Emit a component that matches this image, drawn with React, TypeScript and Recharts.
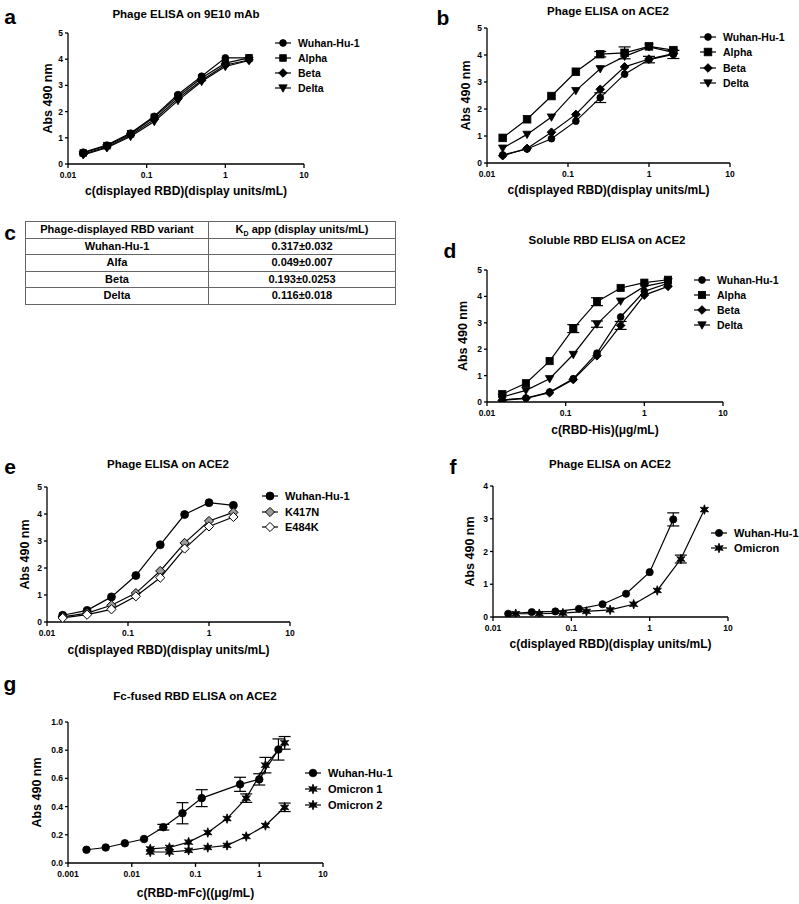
import React from 'react';
import { ScatterChart, Scatter, XAxis, YAxis, ErrorBar, Label } from 'recharts';

const FONT = '"Liberation Sans", Arial, Helvetica, sans-serif';

// ---------- data ----------
const conc = [0.015625, 0.03125, 0.0625, 0.125, 0.25, 0.5, 1, 2];
const concOmi = [0.0195, 0.039, 0.078, 0.156, 0.3125, 0.625, 1.25, 2.5, 5];
const concGW = [0.00195, 0.0039, 0.0078, 0.0156, 0.03125, 0.0625, 0.125, 0.5, 1, 2];
const concGO = [0.0195, 0.039, 0.078, 0.156, 0.3125, 0.625, 1.25, 2.5];

const ticks5 = [0, 1, 2, 3, 4, 5];
const ticks4 = [0, 1, 2, 3, 4];
const ticksG = [0, 0.2, 0.4, 0.6, 0.8, 1.0];
const xTicks = [0.01, 0.1, 1, 10];
const xTicksG = [0.001, 0.01, 0.1, 1, 10];

// panel a
const aWuhan = [0.45, 0.72, 1.18, 1.82, 2.65, 3.35, 4.05, 4.05];
const aAlpha = [0.42, 0.7, 1.15, 1.78, 2.58, 3.28, 3.85, 4.05];
const aBeta = [0.38, 0.65, 1.1, 1.7, 2.5, 3.2, 3.78, 3.97];
const aDelta = [0.35, 0.62, 1.05, 1.62, 2.42, 3.15, 3.72, 3.95];

// panel b
const bWuhan = [0.3, 0.52, 0.9, 1.55, 2.42, 3.29, 3.83, 4.02];
const bWuhanErr = [null, null, null, null, 0.18, null, 0.12, 0.15];
const bAlpha = [0.93, 1.62, 2.48, 3.38, 4.03, 4.08, 4.32, 4.18];
const bAlphaErr = [null, null, null, null, 0.1, 0.22, null, null];
const bBeta = [0.27, 0.54, 1.14, 1.8, 2.73, 3.56, 3.85, 4.05];
const bDelta = [0.55, 1.06, 1.7, 2.68, 3.49, 3.95, 4.3, 4.1];

// panel c (table)
const tableVariants = ['Wuhan-Hu-1', 'Alfa', 'Beta', 'Delta'];
const tableKd = ['0.317±0.032', '0.049±0.007', '0.193±0.0253', '0.116±0.018'];

// panel d
const dWuhan = [0.08, 0.15, 0.38, 0.88, 1.85, 3.22, 4.19, 4.5];
const dAlpha = [0.3, 0.71, 1.55, 2.78, 3.8, 4.32, 4.52, 4.63];
const dAlphaErr = [null, null, null, 0.15, 0.15, null, null, null];
const dBeta = [0.06, 0.14, 0.35, 0.85, 1.75, 2.9, 4.05, 4.38];
const dBetaErr = [null, null, null, null, null, 0.15, null, null];
const dDelta = [0.19, 0.44, 0.88, 1.8, 2.95, 3.82, 4.38, 4.56];
const dDeltaErr = [null, null, null, null, 0.12, null, null, null];

// panel e
const eWuhan = [0.25, 0.43, 0.93, 1.72, 2.86, 3.98, 4.42, 4.32];
const eK417N = [0.19, 0.33, 0.62, 1.07, 1.89, 2.93, 3.74, 4.06];
const eE484K = [0.15, 0.27, 0.47, 0.95, 1.64, 2.72, 3.54, 3.89];

// panel f
const fWuhan = [0.1, 0.15, 0.17, 0.25, 0.39, 0.71, 1.37, 2.98];
const fWuhanErr = [null, null, null, null, null, null, null, 0.2];
const fOmicron = [0.1, 0.1, 0.12, 0.17, 0.22, 0.39, 0.81, 1.77, 3.28];
const fOmicronErr = [null, null, null, null, null, null, null, 0.12, null];

// panel g
const gWuhan = [0.094, 0.11, 0.14, 0.17, 0.254, 0.353, 0.46, 0.558, 0.593, 0.805];
const gWuhanErr = [null, null, null, null, 0.02, 0.075, 0.06, 0.05, 0.04, 0.075];
const gOmi1 = [0.1, 0.11, 0.148, 0.216, 0.315, 0.46, 0.694, 0.852];
const gOmi1Err = [null, null, null, null, null, 0.03, 0.055, 0.045];
const gOmi2 = [0.078, 0.078, 0.09, 0.11, 0.125, 0.188, 0.266, 0.395];
const gOmi2Err = [null, null, null, null, null, null, null, 0.03];

// ---------- helpers ----------
type MType = 'circle' | 'square' | 'diamond' | 'tri' | 'star';
type MSpec = { type: MType; size: number; fill?: string };
type Pt = { x: number; y: number; err?: number | null };
type Series = { name: string; data: Pt[]; m: MSpec };

const pts = (xs: number[], ys: number[], es?: (number | null)[]): Pt[] =>
  ys.map((y, i) => ({ x: xs[i], y, err: es ? es[i] : null }));

function Marker({ cx, cy, m }: { cx: number; cy: number; m: MSpec }) {
  const s = m.size;
  const fill = m.fill || '#000';
  const stroke = '#000';
  if (m.type === 'circle') return <circle cx={cx} cy={cy} r={s} fill={fill} stroke={stroke} strokeWidth={0.8} />;
  if (m.type === 'square')
    return <rect x={cx - s} y={cy - s} width={2 * s} height={2 * s} fill={fill} stroke={stroke} strokeWidth={0.8} />;
  if (m.type === 'diamond')
    return (
      <polygon
        points={`${cx},${cy - s} ${cx + s},${cy} ${cx},${cy + s} ${cx - s},${cy}`}
        fill={fill}
        stroke={stroke}
        strokeWidth={1}
      />
    );
  if (m.type === 'tri')
    return (
      <polygon
        points={`${cx - s},${cy - s * 0.75} ${cx + s},${cy - s * 0.75} ${cx},${cy + s}`}
        fill={fill}
        stroke={stroke}
        strokeWidth={0.8}
      />
    );
  // star
  const p: string[] = [];
  for (let i = 0; i < 12; i++) {
    const r = i % 2 === 0 ? s : s * 0.45;
    const a = (Math.PI / 6) * i - Math.PI / 2;
    p.push(`${cx + r * Math.cos(a)},${cy + r * Math.sin(a)}`);
  }
  return <polygon points={p.join(' ')} fill={fill} stroke={stroke} strokeWidth={0.8} />;
}

type PanelProps = {
  plot: [number, number, number, number];
  xDomain: [number, number];
  xTicks: number[];
  yDomain: [number, number];
  yTicks: number[];
  yFmt?: (v: number) => string;
  xLabel: string;
  xLabelDist: number;
  yLabelDist: number;
  series: Series[];
};

const YW = 60;
const XH = 42;
const PADT = 8;
const PADR = 8;

const tickStyle = { fontSize: 8.5, fontWeight: 'bold', fill: '#000', fontFamily: FONT } as any;
const axisLine = { stroke: '#000', strokeWidth: 1.3 };

function Panel(p: PanelProps) {
  const [x0, y0, x1, y1] = p.plot;
  const pw = x1 - x0;
  const ph = y1 - y0;
  return (
    <div style={{ position: 'absolute', left: x0 - YW, top: y0 - PADT }}>
      <ScatterChart
        width={YW + pw + PADR}
        height={PADT + ph + XH}
        margin={{ top: PADT, right: PADR, left: 0, bottom: 0 }}
      >
        <XAxis
          type="number"
          dataKey="x"
          scale="log"
          domain={p.xDomain}
          ticks={p.xTicks}
          interval={0}
          allowDataOverflow
          height={XH}
          tick={tickStyle}
          tickSize={4}
          tickMargin={4}
          axisLine={axisLine}
          tickLine={axisLine}
          tickFormatter={(v: number) => String(v)}
        >
          <Label
            content={(lp: any) => {
              const vb = lp.viewBox || {};
              return (
                <text
                  x={vb.x + vb.width / 2}
                  y={vb.y + p.xLabelDist}
                  textAnchor="middle"
                  dominantBaseline="central"
                  fontFamily={FONT}
                  fontWeight="bold"
                  fontSize={12}
                  fill="#000"
                >
                  {p.xLabel}
                </text>
              );
            }}
          />
        </XAxis>
        <YAxis
          type="number"
          dataKey="y"
          domain={p.yDomain}
          ticks={p.yTicks}
          interval={0}
          allowDataOverflow
          width={YW}
          tick={tickStyle}
          tickSize={3}
          tickMargin={2}
          axisLine={axisLine}
          tickLine={axisLine}
          tickFormatter={p.yFmt || ((v: number) => String(v))}
        >
          <Label
            content={(lp: any) => {
              const vb = lp.viewBox || {};
              const cx = vb.x + vb.width - p.yLabelDist;
              const cy = vb.y + vb.height / 2;
              return (
                <text
                  x={cx}
                  y={cy}
                  transform={`rotate(-90 ${cx} ${cy})`}
                  textAnchor="middle"
                  dominantBaseline="central"
                  fontFamily={FONT}
                  fontWeight="bold"
                  fontSize={12.5}
                  fill="#000"
                >
                  Abs 490 nm
                </text>
              );
            }}
          />
        </YAxis>
        {p.series.map((s) => (
          <Scatter
            key={s.name}
            name={s.name}
            data={s.data}
            isAnimationActive={false}
            line={{ stroke: '#000', strokeWidth: 1.2 }}
            lineType="joint"
            shape={(sp: any) => <Marker cx={sp.cx} cy={sp.cy} m={s.m} />}
          >
            <ErrorBar dataKey="err" direction="y" width={6} stroke="#000" strokeWidth={1.2} />
          </Scatter>
        ))}
      </ScatterChart>
    </div>
  );
}

function LegendBox({ x, y, gap, font, items }: { x: number; y: number; gap: number; font: number; items: { name: string; m: MSpec }[] }) {
  return (
    <>
      {items.map((it, i) => (
        <div
          key={it.name}
          style={{
            position: 'absolute',
            left: x - 9,
            top: y + i * gap - 7,
            height: 14,
            display: 'flex',
            alignItems: 'center',
            whiteSpace: 'nowrap',
            fontFamily: FONT,
            fontWeight: 'bold',
            fontSize: font,
          }}
        >
          <svg width={18} height={14} style={{ display: 'block' }}>
            <line x1={1} y1={7} x2={17} y2={7} stroke="#000" strokeWidth={1.2} />
            <Marker cx={9} cy={7} m={it.m} />
          </svg>
          <span style={{ marginLeft: 6 }}>{it.name}</span>
        </div>
      ))}
    </>
  );
}

function Text({ x, y, size, children }: { x: number; y: number; size: number; children: React.ReactNode }) {
  return (
    <div
      style={{
        position: 'absolute',
        left: x,
        top: y,
        transform: 'translate(-50%, -50%)',
        whiteSpace: 'nowrap',
        fontFamily: FONT,
        fontWeight: 'bold',
        fontSize: size,
        lineHeight: 1,
      }}
    >
      {children}
    </div>
  );
}

const mCircle: MSpec = { type: 'circle', size: 3.4 };
const mSquare: MSpec = { type: 'square', size: 3.3 };
const mDiamond: MSpec = { type: 'diamond', size: 4.3 };
const mTri: MSpec = { type: 'tri', size: 4.2 };
const mStar: MSpec = { type: 'star', size: 4.8 };

export default function App() {
  const seriesA: Series[] = [
    { name: 'Wuhan-Hu-1', data: pts(conc, aWuhan), m: mCircle },
    { name: 'Alpha', data: pts(conc, aAlpha), m: mSquare },
    { name: 'Beta', data: pts(conc, aBeta), m: mDiamond },
    { name: 'Delta', data: pts(conc, aDelta), m: mTri },
  ];
  const seriesB: Series[] = [
    { name: 'Wuhan-Hu-1', data: pts(conc, bWuhan, bWuhanErr), m: mCircle },
    { name: 'Alpha', data: pts(conc, bAlpha, bAlphaErr), m: { type: 'square', size: 3.8 } },
    { name: 'Beta', data: pts(conc, bBeta), m: mDiamond },
    { name: 'Delta', data: pts(conc, bDelta), m: mTri },
  ];
  const seriesD: Series[] = [
    { name: 'Wuhan-Hu-1', data: pts(conc, dWuhan), m: mCircle },
    { name: 'Alpha', data: pts(conc, dAlpha, dAlphaErr), m: { type: 'square', size: 3.6 } },
    { name: 'Beta', data: pts(conc, dBeta, dBetaErr), m: mDiamond },
    { name: 'Delta', data: pts(conc, dDelta, dDeltaErr), m: mTri },
  ];
  const mWE: MSpec = { type: 'circle', size: 4 };
  const mK: MSpec = { type: 'diamond', size: 4.6, fill: '#9a9a9a' };
  const mE: MSpec = { type: 'diamond', size: 4.6, fill: '#fff' };
  const seriesE: Series[] = [
    { name: 'Wuhan-Hu-1', data: pts(conc, eWuhan), m: mWE },
    { name: 'K417N', data: pts(conc, eK417N), m: mK },
    { name: 'E484K', data: pts(conc, eE484K), m: mE },
  ];
  const seriesF: Series[] = [
    { name: 'Wuhan-Hu-1', data: pts(conc, fWuhan, fWuhanErr), m: { type: 'circle', size: 3.6 } },
    { name: 'Omicron', data: pts(concOmi, fOmicron, fOmicronErr), m: mStar },
  ];
  const seriesG: Series[] = [
    { name: 'Wuhan-Hu-1', data: pts(concGW, gWuhan, gWuhanErr), m: { type: 'circle', size: 3.8 } },
    { name: 'Omicron 1', data: pts(concGO, gOmi1, gOmi1Err), m: mStar },
    { name: 'Omicron 2', data: pts(concGO, gOmi2, gOmi2Err), m: mStar },
  ];

  const cell: React.CSSProperties = {
    border: '1px solid #666',
    height: 15.5,
    padding: 0,
    textAlign: 'center',
    fontFamily: FONT,
    fontWeight: 'bold',
    fontSize: 11,
    lineHeight: '15.5px',
  };

  return (
    <div style={{ position: 'absolute', left: 0, top: 0, width: 799, height: 904, background: '#fff', overflow: 'hidden' }}>
      {/* panel a */}
      <Text x={10} y={16} size={21}>a</Text>
      <Text x={186} y={15} size={11.5}>Phage ELISA on 9E10 mAb</Text>
      <Panel
        plot={[68, 33, 304, 164]}
        xDomain={[0.01, 10]}
        xTicks={xTicks}
        yDomain={[0, 5]}
        yTicks={ticks5}
        xLabel="c(displayed RBD)(display units/mL)"
        xLabelDist={27}
        yLabelDist={20}
        series={seriesA}
      />
      <LegendBox x={283} y={43} gap={15} font={10.5} items={seriesA} />

      {/* panel b */}
      <Text x={443} y={17} size={21}>b</Text>
      <Text x={608} y={12} size={11.5}>Phage ELISA on ACE2</Text>
      <Panel
        plot={[487, 28, 730, 163]}
        xDomain={[0.01, 10]}
        xTicks={xTicks}
        yDomain={[0, 5]}
        yTicks={ticks5}
        xLabel="c(displayed RBD)(display units/mL)"
        xLabelDist={27}
        yLabelDist={21}
        series={seriesB}
      />
      <LegendBox x={708} y={37} gap={15.3} font={10.5} items={seriesB} />

      {/* panel c */}
      <Text x={10} y={232} size={21}>c</Text>
      <table
        style={{
          position: 'absolute',
          left: 25,
          top: 221,
          width: 371,
          borderCollapse: 'collapse',
          tableLayout: 'fixed',
        }}
      >
        <tbody>
          <tr>
            <td style={{ ...cell, width: 182 }}>Phage-displayed RBD variant</td>
            <td style={cell}>
              K<sub style={{ fontSize: 7, verticalAlign: 'sub', lineHeight: 0 }}>D</sub> app (display units/mL)
            </td>
          </tr>
          {tableVariants.map((v, i) => (
            <tr key={v}>
              <td style={cell}>{v}</td>
              <td style={cell}>{tableKd[i]}</td>
            </tr>
          ))}
        </tbody>
      </table>

      {/* panel d */}
      <Text x={450} y={250} size={21}>d</Text>
      <Text x={607} y={241} size={11.5}>Soluble RBD ELISA on ACE2</Text>
      <Panel
        plot={[487, 270, 723, 402]}
        xDomain={[0.01, 10]}
        xTicks={xTicks}
        yDomain={[0, 5]}
        yTicks={ticks5}
        xLabel="c(RBD-His)(μg/mL)"
        xLabelDist={28}
        yLabelDist={24}
        series={seriesD}
      />
      <LegendBox x={702} y={280} gap={15} font={10.5} items={seriesD} />

      {/* panel e */}
      <Text x={10} y={466} size={21}>e</Text>
      <Text x={168} y={465} size={11.5}>Phage ELISA on ACE2</Text>
      <Panel
        plot={[47, 487, 290, 622]}
        xDomain={[0.01, 10]}
        xTicks={xTicks}
        yDomain={[0, 5]}
        yTicks={ticks5}
        xLabel="c(displayed RBD)(display units/mL)"
        xLabelDist={28}
        yLabelDist={22}
        series={seriesE}
      />
      <LegendBox x={270} y={496} gap={15.5} font={11} items={seriesE} />

      {/* panel f */}
      <Text x={453} y={466} size={21}>f</Text>
      <Text x={610} y={465} size={11.5}>Phage ELISA on ACE2</Text>
      <Panel
        plot={[493, 486, 728, 617]}
        xDomain={[0.01, 10]}
        xTicks={xTicks}
        yDomain={[0, 4]}
        yTicks={ticks4}
        xLabel="c(displayed RBD)(display units/mL)"
        xLabelDist={27}
        yLabelDist={23}
        series={seriesF}
      />
      <LegendBox x={719} y={533} gap={15} font={11} items={seriesF} />

      {/* panel g */}
      <Text x={10} y={683} size={21}>g</Text>
      <Text x={195} y={697} size={11.5}>Fc-fused RBD ELISA on ACE2</Text>
      <Panel
        plot={[68, 722, 323, 863]}
        xDomain={[0.001, 10]}
        xTicks={xTicksG}
        yDomain={[0, 1]}
        yTicks={ticksG}
        yFmt={(v: number) => v.toFixed(1)}
        xLabel="c(RBD-mFc)((μg/mL)"
        xLabelDist={30}
        yLabelDist={31}
        series={seriesG}
      />
      <LegendBox x={313} y={773} gap={16} font={11} items={seriesG} />
    </div>
  );
}
